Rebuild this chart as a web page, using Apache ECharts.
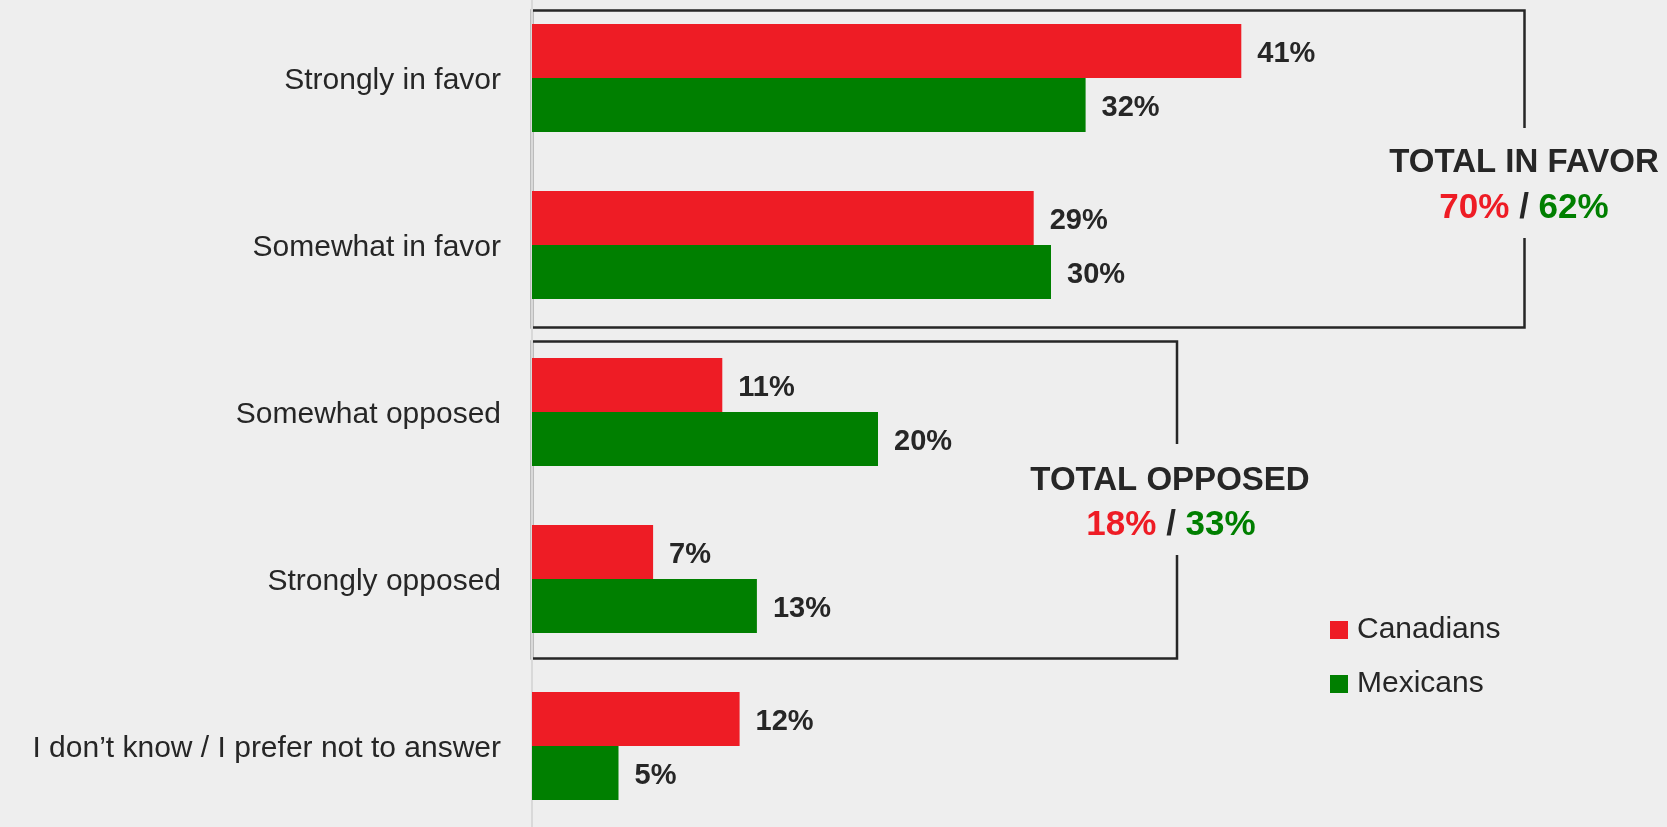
<!DOCTYPE html>
<html><head><meta charset="utf-8">
<script src="https://cdn.jsdelivr.net/npm/echarts@6/dist/echarts.min.js"></script>
<style>html,body{margin:0;padding:0;background:#eeeeee;}#c{width:1667px;height:827px;}</style>
</head><body><div id="c"></div>
<script>
const categories = ['Strongly in favor', 'Somewhat in favor', 'Somewhat opposed', 'Strongly opposed', 'I don\u2019t know / I prefer not to answer'];
const seriesNames = ['Canadians', 'Mexicans'];
const canadians = [41, 29, 11, 7, 12];
const mexicans = [32, 30, 20, 13, 5];
const totalInFavor = [70, 62];
const totalOpposed = [18, 33];

const RED = '#ee1c25', GREEN = '#007f00', INK = '#262626';
const FONT = '"Liberation Sans", Arial, sans-serif';

const chart = echarts.init(document.getElementById('c'), null, {renderer: 'canvas'});
const labelCfg = {show: true, position: 'right', distance: 16, offset: [0, 3], formatter: '{c}%', fontFamily: FONT, fontWeight: 'bold', fontSize: 29, color: INK};

chart.setOption({
  backgroundColor: '#eeeeee',
  animation: false,
  grid: {left: 532, top: -5.5, width: 1038, height: 835, containLabel: false, outerBoundsMode: 'none'},
  xAxis: {type: 'value', min: 0, max: 60, show: false, splitLine: {show: false}},
  yAxis: {
    type: 'category', data: categories, inverse: true,
    axisTick: {show: false},
    axisLine: {show: true, lineStyle: {color: '#d9d9d9', width: 2}},
    axisLabel: {
      margin: 31, fontFamily: FONT, fontSize: 30, color: INK,
      formatter: v => '{a|' + v + '}',
      rich: {a: {fontFamily: FONT, fontSize: 30, color: INK, padding: [5, 0, 0, 0]}}
    },
    splitLine: {show: false}
  },
  legend: {
    orient: 'vertical', left: 1330, top: 615, padding: 0,
    itemWidth: 18, itemHeight: 18, itemGap: 24, icon: 'rect',
    textStyle: {fontFamily: FONT, fontSize: 30, color: INK, padding: [0, 0, 0, 4]},
    data: seriesNames
  },
  series: [
    {type: 'bar', name: seriesNames[0], data: canadians, barWidth: 54, barGap: '0%', itemStyle: {color: RED}, label: labelCfg},
    {type: 'bar', name: seriesNames[1], data: mexicans, barWidth: 54, barGap: '0%', itemStyle: {color: GREEN}, label: labelCfg}
  ]
});

// annotation boxes anchored on the axis
const x0 = chart.convertToPixel({xAxisIndex: 0}, 0);
const cy = categories.map(c => chart.convertToPixel({yAxisIndex: 0}, c));

function bracket(top, bottom, right, gapTop, gapBottom) {
  return {
    type: 'polyline', silent: true,
    shape: {points: [[right, gapTop], [right, top], [x0, top], [x0, bottom], [right, bottom], [right, gapBottom]]},
    style: {stroke: INK, lineWidth: 2.5, fill: null}
  };
}
function title(text, x, y) {
  return {type: 'text', silent: true, style: {text: text, x: x, y: y, align: 'center', verticalAlign: 'middle', textAlign: 'center', textVerticalAlign: 'middle', font: 'bold 33px ' + FONT, fill: INK}};
}
function totals(vals, x, y) {
  const rs = {fontFamily: FONT, fontWeight: 'bold', fontSize: 35};
  return {type: 'text', silent: true, style: {
    text: '{r|' + vals[0] + '%} {k|/} {g|' + vals[1] + '%}',
    x: x, y: y, align: 'center', verticalAlign: 'middle', textAlign: 'center', textVerticalAlign: 'middle',
    font: 'bold 35px ' + FONT, fill: INK,
    rich: {
      r: Object.assign({fill: RED, color: RED}, rs),
      k: Object.assign({fill: INK, color: INK}, rs),
      g: Object.assign({fill: GREEN, color: GREEN}, rs)
    }
  }};
}

const b1Top = cy[0] - 67.5, b1Bot = cy[1] + 82.5, b1Right = 1524.5;
const b2Top = cy[2] - 70.5, b2Bot = cy[3] + 79.5, b2Right = 1177;

chart.setOption({
  graphic: [
    bracket(b1Top, b1Bot, b1Right, 128, 238),
    title('TOTAL IN FAVOR', 1524, 163),
    totals(totalInFavor, 1524, 208),
    bracket(b2Top, b2Bot, b2Right, 444, 555),
    title('TOTAL OPPOSED', 1170, 481),
    totals(totalOpposed, 1171, 525)
  ]
});
</script>
</body></html>
